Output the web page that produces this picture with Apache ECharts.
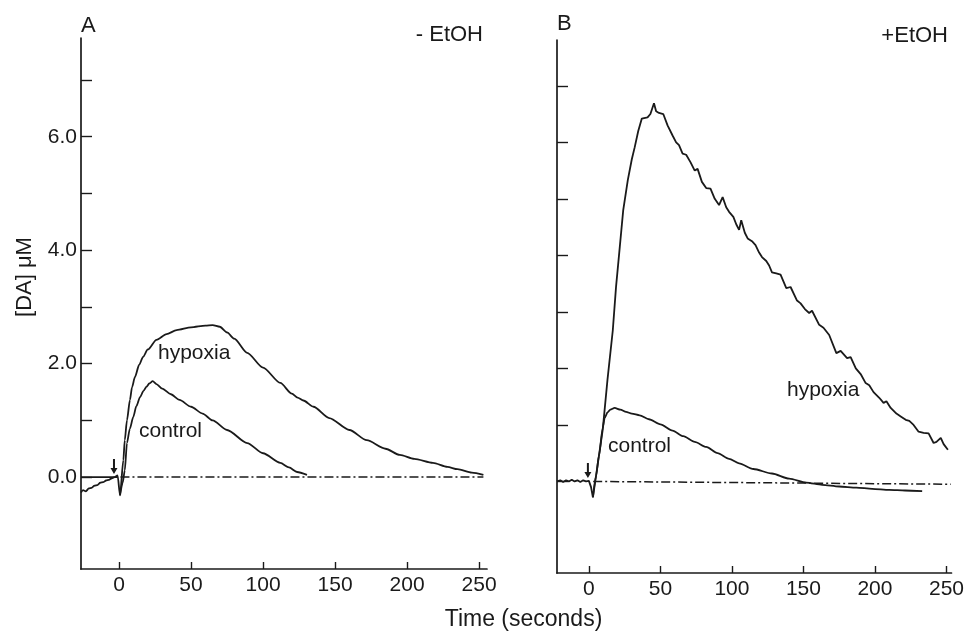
<!DOCTYPE html>
<html>
<head>
<meta charset="utf-8">
<script src="https://cdn.jsdelivr.net/npm/echarts@6.0.0/dist/echarts.min.js"></script>
<style>
html,body{margin:0;padding:0;background:#fff;}
#chart{width:967px;height:635px;}
</style>
</head>
<body>
<div id="chart"></div>
<script>
// ---------- data (time in seconds, [DA] in µM) ----------
var xTicks = [0, 50, 100, 150, 200, 250];
var yTicks = [0, 1, 2, 3, 4, 5, 6, 7];
var yLabelsA = [0, 2, 4, 6];

// Panel A (- EtOH)
var hypoxiaA = [
  [-26.4,-0.27],[-25,-0.23],[-23,-0.25],[-21,-0.2],[-19,-0.19],[-17,-0.15],[-15,-0.14],
  [-13,-0.1],[-11,-0.09],[-9,-0.06],[-7,-0.05],[-5,-0.02],[-3,0.0],[-1,0.03],[0.7,-0.32],
  [3,0.3],[4,0.65],[5.5,1.0],[7.6,1.36],[9,1.58],[11,1.76],[14,1.98],[16.7,2.12],[20,2.25],
  [26,2.42],[33,2.52],[40,2.59],[50,2.64],[60,2.67],[65,2.68],[70,2.65],[75,2.55],[80,2.44],
  [89,2.19],[100,1.93],[112,1.66],[120,1.47],[124,1.4],[128,1.35],[135,1.24],[146,1.04],
  [160,0.83],[172,0.65],[185,0.5],[195,0.39],[205,0.32],[218,0.25],[228,0.18],[235,0.14],
  [245,0.08],[253,0.04]
];
var controlA = [
  [0.7,-0.32],[2.5,-0.1],[4,0.12],[5.5,0.6],[7.5,0.85],[9.9,1.06],[12,1.25],[14.6,1.41],
  [17,1.52],[19,1.59],[21,1.65],[23.4,1.69],[26,1.64],[30,1.56],[36,1.46],[42,1.36],
  [50,1.24],[58,1.12],[65,1.0],[75,0.83],[89,0.6],[100,0.42],[112,0.25],[118,0.17],
  [123.6,0.09],[130.5,0.04]
];
var zeroSolidA = [[-26.4,0],[-1,0]];
var zeroDashA = [[1,0],[253,0]];
var arrowA = [-3.5, 0.185];

// Panel B (+EtOH)
var hypoxiaB = [
  [-22.3,0.0],[-20,0.02],[-18,-0.01],[-16,0.02],[-14,0.0],[-12,0.03],[-10,0.0],[-8,0.02],
  [-6,-0.01],[-4,0.02],[-2,0.0],[0,0.01],[1.5,-0.1],[2.8,-0.28],
  [5,0.1],[7,0.45],[9.7,0.92],[13,1.8],[16.7,2.67],[19,3.45],[21.6,4.15],[24,4.8],[27.2,5.33],
  [30,5.7],[32,5.91],[34.5,6.2],[37,6.42],[41,6.44],[43,6.5],[45.5,6.69],[47,6.55],[49,6.52],
  [52,6.5],[55,6.3],[58.5,6.12],[61,6.0],[63,5.95],[65.5,5.8],[68,5.78],[71,5.65],[74,5.5],
  [76,5.53],[79,5.3],[82,5.19],[85,5.18],[88,5.0],[91,4.89],[93.5,5.03],[96,4.85],[98,4.77],
  [101,4.68],[103,4.55],[105,4.45],[106.5,4.62],[109,4.4],[111,4.3],[114,4.25],[116.5,4.18],
  [119,4.05],[121,3.97],[124,3.9],[126,3.82],[128,3.7],[131,3.68],[134,3.66],[138,3.42],
  [141,3.44],[145.5,3.2],[148,3.15],[151,3.05],[154,2.98],[156,3.02],[161,2.77],[164,2.72],
  [168,2.59],[173,2.27],[176,2.31],[180.5,2.18],[183,2.2],[186.6,2.0],[190,1.9],[193.5,1.74],
  [196,1.7],[199,1.58],[203,1.48],[206,1.39],[208,1.42],[211,1.3],[215,1.2],[218,1.15],
  [221.5,1.09],[224,1.07],[227,1.0],[230.5,0.88],[234,0.86],[237.5,0.85],[241,0.68],
  [243,0.7],[246,0.77],[248,0.66],[251,0.56]
];
var controlB = [
  [2.8,-0.28],[5,0.1],[7,0.45],[9.7,0.95],[11,1.12],[13,1.22],[15,1.27],[18,1.3],[22,1.27],
  [26,1.23],[30,1.2],[35.5,1.17],[42,1.1],[50,1.01],[58.5,0.9],[66,0.8],[74,0.7],[82,0.61],
  [90,0.5],[98,0.4],[105,0.32],[115,0.22],[128,0.14],[140,0.05],[152,-0.02],[163,-0.06],
  [175,-0.09],[187,-0.11],[198,-0.13],[210,-0.15],[221,-0.16],[233,-0.17]
];
var zeroDashB = [[3,0],[253,-0.05]];
var arrowB = [-0.7, 0.195];

// ---------- chart ----------
var FONT = '"Liberation Sans", Arial, Helvetica, sans-serif';
var INK = '#1a1a1a';
var arrowPath = 'path://M2,0 L4,0 L4,9 L6.5,9 L3,15 L-0.5,9 L2,9 Z';

function xAxisCfg(idx, min, max) {
  return {
    type: 'value', gridIndex: idx, min: min, max: max, position: 'bottom',
    axisLine: {show: true, onZero: false, lineStyle: {color: INK, width: 1.7}},
    axisTick: {show: true, inside: true, length: 7, customValues: xTicks, lineStyle: {color: INK, width: 1.4}},
    axisLabel: {show: true, customValues: xTicks, color: INK, fontSize: 21, fontFamily: FONT, margin: 6},
    splitLine: {show: false}
  };
}
function yAxisCfg(idx, min, max, showLabels) {
  return {
    type: 'value', gridIndex: idx, min: min, max: max, position: 'left',
    axisLine: {show: true, onZero: false, lineStyle: {color: INK, width: 1.7}},
    axisTick: {show: true, inside: true, length: 11, customValues: yTicks, lineStyle: {color: INK, width: 1.4}},
    axisLabel: {show: showLabels, customValues: yLabelsA, color: INK, fontSize: 21, fontFamily: FONT, margin: 4,
      formatter: function (v) { return Number(v).toFixed(1); }},
    splitLine: {show: false}
  };
}
function lineSeries(data, xi, smooth, type) {
  return {
    type: 'line', data: data, xAxisIndex: xi, yAxisIndex: xi,
    showSymbol: false, symbol: 'none', smooth: smooth, smoothMonotone: 'x',
    lineStyle: {color: INK, width: 1.8, type: type || 'solid'},
    animation: false, silent: true, z: 3
  };
}
function arrowMark(coord) {
  return {
    symbol: arrowPath, symbolSize: [7, 15], silent: true, animation: false,
    itemStyle: {color: INK}, label: {show: false},
    data: [{coord: coord}]
  };
}
function txt(text, x, y, size, align, rot) {
  return {
    type: 'text', x: x, y: y, rotation: rot || 0, silent: true,
    style: {text: text, fill: INK, font: size + 'px ' + FONT, align: align || 'left', verticalAlign: 'middle'}
  };
}

var dashDot = [9, 3, 2, 3];
var sZeroA = lineSeries(zeroDashA, 0, false, dashDot);
sZeroA.lineStyle.width = 1.5;
sZeroA.markPoint = arrowMark(arrowA);
var sZeroB = lineSeries(zeroDashB, 1, false, dashDot);
sZeroB.lineStyle.width = 1.5;
sZeroB.markPoint = arrowMark(arrowB);

var option = {
  backgroundColor: '#ffffff',
  animation: false,
  grid: [
    {left: 81, top: 38, width: 406, height: 531},
    {left: 557, top: 40, width: 396, height: 533}
  ],
  xAxis: [xAxisCfg(0, -26.4, 255.5), xAxisCfg(1, -22.3, 253.5)],
  yAxis: [yAxisCfg(0, -1.62, 7.74, true), yAxisCfg(1, -1.62, 7.81, false)],
  series: [
    lineSeries(hypoxiaA, 0, 0.25),
    lineSeries(controlA, 0, 0.25),
    lineSeries(zeroSolidA, 0, false),
    sZeroA,
    lineSeries(hypoxiaB, 1, false),
    lineSeries(controlB, 1, 0.25),
    sZeroB
  ],
  graphic: [
    txt('A', 81, 26, 22),
    txt('- EtOH', 483, 34.5, 22, 'right'),
    txt('B', 557, 23.5, 22),
    txt('+EtOH', 948, 36, 22, 'right'),
    txt('hypoxia', 158, 353, 21),
    txt('control', 139, 431, 21),
    txt('control', 608, 446, 21),
    txt('hypoxia', 787, 390, 21),
    txt('Time (seconds)', 523.5, 620, 23, 'center'),
    txt('[DA] \u03bcM', 25, 277, 22, 'center', Math.PI / 2)
  ]
};

var chart = echarts.init(document.getElementById('chart'), null, {renderer: 'canvas'});
chart.setOption(option);
</script>
</body>
</html>
